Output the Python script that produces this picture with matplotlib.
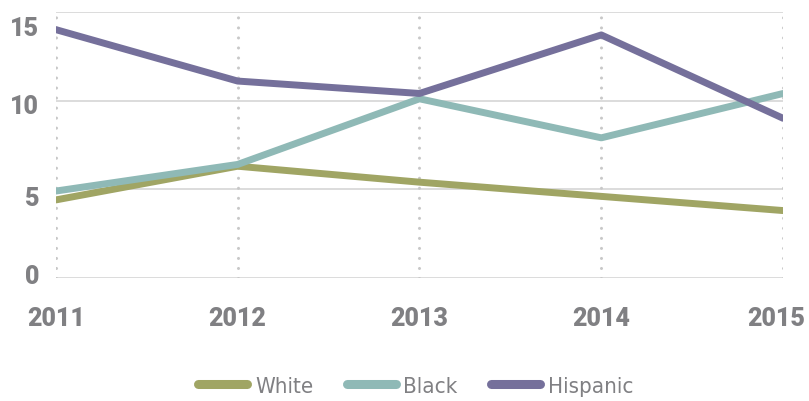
import matplotlib
matplotlib.use("Agg")
import matplotlib.pyplot as plt
from matplotlib.transforms import ScaledTranslation

years = [2011, 2012, 2013, 2014, 2015]
white = [4.4, 6.3, 5.4, 4.6, 3.8]
black = [4.9, 6.4, 10.1, 7.9, 10.4]
hispanic = [14.0, 11.1, 10.4, 13.7, 9.0]
series_names = ["White", "Black", "Hispanic"]
colors = ["#a0a564", "#8fb9b6", "#75709b"]
yticks = [0, 5, 10, 15]

fig = plt.figure(figsize=(8.09, 4.02), dpi=100)
ax = fig.add_axes([0.069, 0.306, 0.899, 0.662])

for vals, name, c in zip([white, black, hispanic], series_names, colors):
    ax.plot(years, vals, color=c, lw=5.0, label=name, solid_capstyle="round",
            solid_joinstyle="round", zorder=3)

ax.set_xlim(2011, 2015)
ax.set_ylim(0, 15)
ax.set_xticks(years)
ax.set_yticks(yticks)
ax.set_xticklabels([str(y) for y in years])

for y in yticks:
    ax.axhline(y, color="#d9d9d9", lw=1.3, zorder=1)
for x in years:
    ax.axvline(x, color="#c8c8c8", lw=2.2, linestyle=(0, (0.01, 3.27)),
               dash_capstyle="round", zorder=1)

for s in ax.spines.values():
    s.set_visible(False)
ax.tick_params(length=0)
ax.tick_params(axis="x", pad=20)
ax.tick_params(axis="y", pad=12)
for lab in ax.get_xticklabels() + ax.get_yticklabels():
    lab.set_fontfamily(["Roboto", "DejaVu Sans"])
    lab.set_fontweight("heavy")
    lab.set_fontsize(18)
    lab.set_color("#808083")

# small per-label offsets as in the reference layout (pixels at dpi 100)
yoff = {0: -4, 5: 6, 10: 3, 15: 14}
for lab, v in zip(ax.get_yticklabels(), yticks):
    lab.set_transform(lab.get_transform() + ScaledTranslation(0, -yoff[v] / 100, fig.dpi_scale_trans))
xl = ax.get_xticklabels()
xl[-1].set_transform(xl[-1].get_transform() + ScaledTranslation(-7 / 100, 0, fig.dpi_scale_trans))

leg = fig.legend(loc="center", bbox_to_anchor=(0.514, 0.037), ncol=3, frameon=False,
                 handlelength=2.2, handletextpad=0.35, columnspacing=1.5,
                 prop={"family": ["DejaVu Sans"], "size": 16, "stretch": "condensed"})
for t in leg.get_texts():
    t.set_color("#808083")
for h in leg.get_lines():
    h.set_linewidth(6.5)
    h.set_solid_capstyle("round")

fig.savefig("out.png", dpi=100)
